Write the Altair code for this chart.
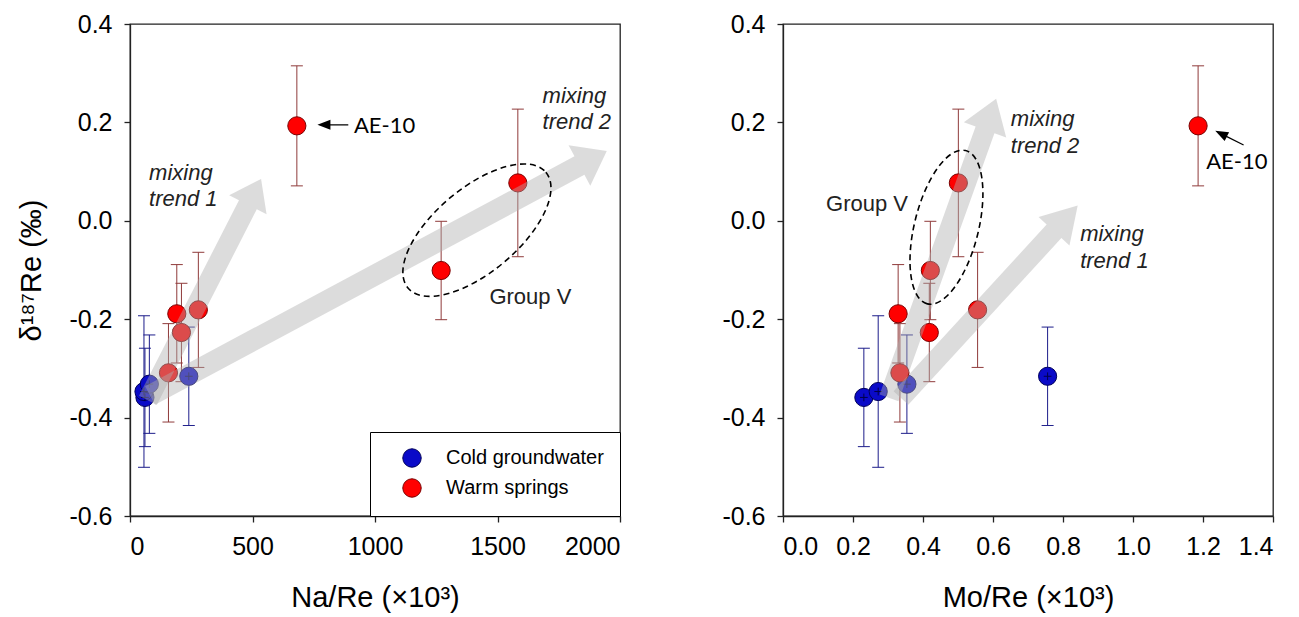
import math
import altair as alt
import pandas as pd

# ---------------- data ----------------
groups = ["Cold groundwater", "Warm springs"]
fill_colors = ["#0a0ac8", "#ff0000"]
edge_colors = ["#00005a", "#7a0000"]
err_colors = ["#1c1c8a", "#8f3a3a"]

cold_na = [61, 57, 79, 240]
cold_mo = [0.231, 0.272, 0.354, 0.756]
cold_d = [-0.359, -0.347, -0.332, -0.316]
cold_err = [0.10, 0.154, 0.10, 0.10]

warm_na = [681, 1583, 1270, 191, 210, 279, 157]
warm_mo = [1.186, 0.501, 0.421, 0.329, 0.418, 0.556, 0.334]
warm_d = [0.193, 0.077, -0.101, -0.189, -0.227, -0.181, -0.309]
warm_err = [0.122, 0.15, 0.10, 0.10, 0.10, 0.117, 0.10]

y_ticks = [-0.6, -0.4, -0.2, 0.0, 0.2, 0.4]
na_ticks = [0, 500, 1000, 1500, 2000]
mo_ticks = [0.0, 0.2, 0.4, 0.6, 0.8, 1.0, 1.2, 1.4]

# annotations, left panel (Na/Re)
na_arrow_tail_x = [73, 82]
na_arrow_tail_y = [-0.365, -0.355]
na_arrow_tip_x = [535, 1946]
na_arrow_tip_y = [0.085, 0.142]
na_text = ["mixing", "trend 1", "mixing", "trend 2", "Group V"]
na_text_x = [78, 78, 1684, 1684, 1467]
na_text_y = [0.098, 0.044, 0.254, 0.200, -0.154]
na_text_italic = [True, True, True, True, False]
na_ae_x, na_ae_y = [914], [0.193]
na_ptr_tail = (891, 0.195)
na_ptr_tip = (765, 0.195)
na_ellipse = (1416, -0.019)

# annotations, right panel (Mo/Re)
mo_arrow_tail_x = [0.303, 0.337]
mo_arrow_tail_y = [-0.360, -0.360]
mo_arrow_tip_x = [0.609, 0.842]
mo_arrow_tip_y = [0.248, 0.031]
mo_text = ["mixing", "trend 2", "mixing", "trend 1", "Group V"]
mo_text_x = [0.651, 0.651, 0.849, 0.849, 0.123]
mo_text_y = [0.207, 0.153, -0.027, -0.081, 0.035]
mo_text_italic = [True, True, True, True, False]
mo_ae_x, mo_ae_y = [1.209], [0.119]
mo_ptr_tail = (1.316, 0.154)
mo_ptr_tip = (1.235, 0.183)
mo_ellipse = (0.467, -0.013)

# ---------------- layout / style ----------------
W, H = 490, 492
Y_DOM = [-0.6, 0.4]
SY = H / (Y_DOM[1] - Y_DOM[0])
FONT = "Liberation Sans"
ARROW_GREY = "#aeaeae"
ARROW_ALPHA = 0.43


def arrow_df(tx, ty, hx, hy, shaft, head_w, head_len, sx):
    rows = []
    for i in range(len(tx)):
        dx = (hx[i] - tx[i]) * sx
        dy = -(hy[i] - ty[i]) * SY
        length = math.hypot(dx, dy)
        r = head_w[i] / 2
        w = shaft[i] / 2 / r
        hl = head_len[i] / r
        L = length / r
        path = (f"M0,0L-1,{hl:.3f}L{-w:.3f},{hl:.3f}L{-w:.3f},{L:.3f}"
                f"L{w:.3f},{L:.3f}L{w:.3f},{hl:.3f}L1,{hl:.3f}Z")
        ang = math.degrees(math.atan2(dx, -dy)) % 360
        rows.append(dict(x=hx[i], y=hy[i], shape=path, angle=ang, size=head_w[i] ** 2))
    return pd.DataFrame(rows)


def ellipse_path(q):
    k = 0.5523
    return (f"M1,0C1,{k*q:.4f} {k},{q:.4f} 0,{q:.4f}"
            f"C{-k},{q:.4f} -1,{k*q:.4f} -1,0"
            f"C-1,{-k*q:.4f} {-k},{-q:.4f} 0,{-q:.4f}"
            f"C{k},{-q:.4f} 1,{-k*q:.4f} 1,0Z")


def panel(xs_cold, xs_warm, x_dom, x_ticks, x_fmt, x_title, y_title, sx,
          arrows, texts, ae, ptr, ell, ell_ab, ell_angle, legend):
    pts = pd.DataFrame({
        "x": xs_cold + xs_warm,
        "d": cold_d + warm_d,
        "err": cold_err + warm_err,
        "group": [groups[0]] * len(xs_cold) + [groups[1]] * len(xs_warm),
    })
    pts["lo"] = pts["d"] - pts["err"]
    pts["hi"] = pts["d"] + pts["err"]

    xscale = alt.Scale(domain=x_dom, nice=False, zero=False)
    yscale = alt.Scale(domain=Y_DOM, nice=False, zero=False)
    xaxis = alt.Axis(values=x_ticks, format=x_fmt, title=x_title, grid=False,
                     tickSize=6, labelPadding=12, titlePadding=24)
    yaxis = alt.Axis(values=y_ticks, format=".1f",
                     labelExpr="replace(datum.label, '\u2212', '-')",
                     title=y_title, grid=False, tickSize=6, labelPadding=12,
                     titlePadding=22)
    X = alt.X("x:Q", scale=xscale, axis=xaxis)
    Y = alt.Y("d:Q", scale=yscale, axis=yaxis)
    grp_scale = alt.Scale(domain=groups, range=err_colors)

    base = alt.Chart(pts)
    rules = base.mark_rule(strokeWidth=1, opacity=1).encode(
        x=X, y=alt.Y("lo:Q", scale=yscale, axis=yaxis), y2="hi:Q",
        color=alt.Color("group:N", scale=grp_scale, legend=None))
    cap_lo = base.mark_tick(orient="horizontal", size=12, thickness=1, opacity=1).encode(
        x=X, y=alt.Y("lo:Q", scale=yscale, axis=yaxis),
        color=alt.Color("group:N", scale=grp_scale, legend=None))
    cap_hi = base.mark_tick(orient="horizontal", size=12, thickness=1, opacity=1).encode(
        x=X, y=alt.Y("hi:Q", scale=yscale, axis=yaxis),
        color=alt.Color("group:N", scale=grp_scale, legend=None))

    if legend:
        leg = alt.Legend(title=None, orient="bottom-right", offset=0,
                         fillColor="white", strokeColor="black", padding=16,
                         labelFontSize=20, labelFont=FONT, labelColor="black",
                         symbolSize=340, symbolStrokeWidth=1, symbolType="circle",
                         labelOffset=24, rowPadding=6, symbolOffset=16)
    else:
        leg = None
    points = base.mark_point(filled=True, size=330, strokeWidth=1, opacity=1).encode(
        x=X, y=Y,
        fill=alt.Fill("group:N", scale=alt.Scale(domain=groups, range=fill_colors), legend=leg),
        stroke=alt.Stroke("group:N", scale=alt.Scale(domain=groups, range=edge_colors), legend=leg),
    )
    crosses = alt.Chart(pts[pts["group"] == groups[0]]).mark_point(
        shape="M-1,0L1,0M0,-1L0,1", size=60, filled=False, stroke="#00004a",
        strokeWidth=1, opacity=1).encode(x=X, y=Y)

    adf = arrow_df(*arrows, sx)
    big_arrows = alt.Chart(adf).mark_point(
        filled=True, color=ARROW_GREY, opacity=ARROW_ALPHA, strokeWidth=0).encode(
        x=alt.X("x:Q", scale=xscale, axis=xaxis),
        y=alt.Y("y:Q", scale=yscale, axis=yaxis),
        shape=alt.Shape("shape:N", scale=None),
        angle=alt.Angle("angle:Q", scale=None),
        size=alt.Size("size:Q", scale=None))

    a, b = ell_ab
    edf = pd.DataFrame({"x": [ell[0]], "y": [ell[1]]})
    ellipse = alt.Chart(edf).mark_point(
        shape=ellipse_path(b / a), size=4 * a * a, angle=ell_angle, filled=False,
        stroke="black", strokeWidth=1.6, strokeDash=[6, 4], opacity=1).encode(
        x=alt.X("x:Q", scale=xscale, axis=xaxis),
        y=alt.Y("y:Q", scale=yscale, axis=yaxis))

    tlab, tx, ty, tit = texts
    tdf = pd.DataFrame({"t": tlab, "x": tx, "y": ty,
                        "style": ["italic" if v else "normal" for v in tit]})
    layers = [rules, cap_lo, cap_hi, points, crosses, big_arrows, ellipse]
    for style in ["italic", "normal"]:
        sub = tdf[tdf["style"] == style]
        layers.append(alt.Chart(sub).mark_text(
            align="left", baseline="middle", font=FONT, fontSize=22,
            fontStyle=style, color="#222222").encode(
            x=alt.X("x:Q", scale=xscale, axis=xaxis),
            y=alt.Y("y:Q", scale=yscale, axis=yaxis), text="t:N"))

    aedf = pd.DataFrame({"t": ["AE-10"], "x": ae[0], "y": ae[1]})
    layers.append(alt.Chart(aedf).mark_text(
        align="left", baseline="middle", font="Lato", fontSize=22, color="black").encode(
        x=alt.X("x:Q", scale=xscale, axis=xaxis),
        y=alt.Y("y:Q", scale=yscale, axis=yaxis), text="t:N"))

    pdf = arrow_df([ptr[0][0]], [ptr[0][1]], [ptr[1][0]], [ptr[1][1]],
                   [1.2], [10], [13], sx)
    layers.append(alt.Chart(pdf).mark_point(
        filled=True, color="black", opacity=1, strokeWidth=0).encode(
        x=alt.X("x:Q", scale=xscale, axis=xaxis),
        y=alt.Y("y:Q", scale=yscale, axis=yaxis),
        shape=alt.Shape("shape:N", scale=None),
        angle=alt.Angle("angle:Q", scale=None),
        size=alt.Size("size:Q", scale=None)))

    return alt.layer(*layers).resolve_scale(color="independent").properties(width=W, height=H)


left = panel(
    cold_na, warm_na, [0, 2000], na_ticks, "d", "Na/Re (\u00d710\u00b3)",
    "\u03b4\u00b9\u2078\u2077Re (\u2030)", W / 2000,
    (na_arrow_tail_x, na_arrow_tail_y, na_arrow_tip_x, na_arrow_tip_y,
     [20, 21], [42, 46], [29, 31]),
    (na_text, na_text_x, na_text_y, na_text_italic),
    (na_ae_x, na_ae_y), (na_ptr_tail, na_ptr_tip),
    na_ellipse, (90, 42), 320, True)

right = panel(
    cold_mo, warm_mo, [0, 1.4], mo_ticks, ".1f", "Mo/Re (\u00d710\u00b3)",
    None, W / 1.4,
    (mo_arrow_tail_x, mo_arrow_tail_y, mo_arrow_tip_x, mo_arrow_tip_y,
     [20, 20], [45, 42], [33, 35]),
    (mo_text, mo_text_x, mo_text_y, mo_text_italic),
    (mo_ae_x, mo_ae_y), (mo_ptr_tail, mo_ptr_tip),
    mo_ellipse, (79, 32), 104, False)

chart = alt.hconcat(left, right, spacing=99).resolve_scale(
    fill="independent", stroke="independent"
).resolve_legend(fill="independent", stroke="independent").properties(
    padding={"left": 9, "top": 3, "right": 5, "bottom": 0}
).configure_view(stroke="#222222", strokeWidth=1.3).configure_axis(
    labelFont=FONT, titleFont=FONT, labelFontSize=25, titleFontSize=29,
    titleFontWeight="normal", labelColor="black", titleColor="black",
    domainColor="#222222", tickColor="#222222", domainWidth=1.3, tickWidth=1.3,
)

chart.save("out.html", embed_options={"renderer": "svg", "actions": False})
